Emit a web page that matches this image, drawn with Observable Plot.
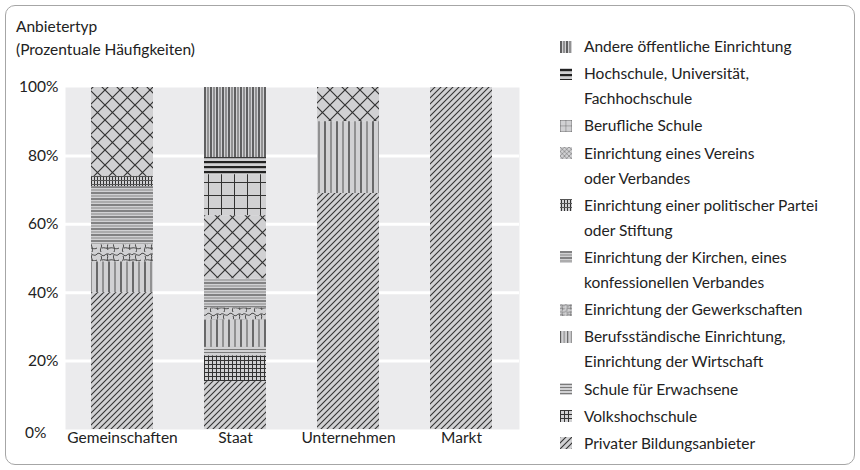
<!DOCTYPE html>
<html>
<head>
<meta charset="utf-8">
<script src="https://cdn.jsdelivr.net/npm/d3@7"></script>
<script src="https://cdn.jsdelivr.net/npm/@observablehq/plot@0.6"></script>
<style>
  body { margin:0; width:860px; height:470px; position:relative; background:#fff; font-family: Lato, "Open Sans", sans-serif; color:#222; overflow:hidden; }
  .frame { position:absolute; left:5px; top:5px; width:850px; height:460px; box-sizing:border-box; border:1.5px solid #a6a6a6; border-radius:10px; }
  #chart { position:absolute; left:0; top:0; }
  .title { position:absolute; left:16px; top:15px; line-height:23px; font-size:15.5px; }
  #legend { position:absolute; left:560px; top:34px; font-size:15.5px; }
  .item { display:flex; align-items:flex-start; margin-bottom:2.2px; }
  .item svg { flex:none; margin-top:6.5px; margin-right:12px; }
  .item .lab { line-height:25px; }
</style>
</head>
<body>
<svg width="0" height="0" style="position:absolute">
  <defs>
    <pattern id="pPriv" width="6" height="6" patternUnits="userSpaceOnUse">
      <rect width="6" height="6" fill="#d1d1d3"/>
      <path d="M-1,1L1,-1M0,6L6,0M5,7L7,5" stroke="#333" stroke-width="1.1"/>
    </pattern>
    <pattern id="pVhs" width="4" height="4" patternUnits="userSpaceOnUse">
      <rect width="4" height="4" fill="#d1d1d3"/>
      <path d="M0,0.5H4M0.5,0V4" stroke="#333" stroke-width="1"/>
    </pattern>
    <pattern id="pSfe" width="4" height="3" patternUnits="userSpaceOnUse">
      <rect width="4" height="3" fill="#d1d1d3"/>
      <path d="M0,1.5H4" stroke="#7a7a7a" stroke-width="1"/>
    </pattern>
    <pattern id="pBst" width="12" height="4" patternUnits="userSpaceOnUse">
      <rect width="12" height="4" fill="#d1d1d3"/>
      <path d="M1,0V4" stroke="#222" stroke-width="1.2"/>
      <path d="M7,0V4" stroke="#666" stroke-width="1.2"/>
    </pattern>
    <pattern id="pGew" width="22" height="12" patternUnits="userSpaceOnUse">
      <rect width="22" height="12" fill="#d1d1d3"/>
      <path d="M0,3C3,-1 6,6 9,2C12,-1 14,6 17,3C19,1 21,2 22,3M4,3C2,6 6,8 4,12M13,4C15,7 11,9 13,12M19,2C21,5 18,8 20,10M0,8C3,7 6,10 9,8M14,8C16,7 18,9 22,8" stroke="#444" stroke-width="1" fill="none"/>
    </pattern>
    <pattern id="pKir" width="4" height="6" patternUnits="userSpaceOnUse">
      <rect width="4" height="6" fill="#d1d1d3"/>
      <path d="M0,1H4" stroke="#333" stroke-width="1"/>
      <path d="M0,4H4" stroke="#888" stroke-width="1"/>
    </pattern>
    <pattern id="pPar" width="3" height="4" patternUnits="userSpaceOnUse">
      <rect width="3" height="4" fill="#d1d1d3"/>
      <path d="M1.5,0V4" stroke="#333" stroke-width="1"/>
      <path d="M0,0.5H3" stroke="#555" stroke-width="1"/>
    </pattern>
    <pattern id="pVer" width="15" height="15" patternUnits="userSpaceOnUse">
      <rect width="15" height="15" fill="#d1d1d3"/>
      <path d="M0,0L15,15M15,0L0,15" stroke="#333" stroke-width="1.2"/>
    </pattern>
    <pattern id="pBfl" width="13" height="13" patternUnits="userSpaceOnUse">
      <rect width="13" height="13" fill="#d1d1d3"/>
      <path d="M0.5,0V13M0,0.5H13" stroke="#333" stroke-width="1"/>
    </pattern>
    <pattern id="pHoch" width="4" height="5" patternUnits="userSpaceOnUse">
      <rect width="4" height="5" fill="#d1d1d3"/>
      <rect y="1" width="4" height="2.2" fill="#222"/>
    </pattern>
    <pattern id="pAnd" width="6" height="4" patternUnits="userSpaceOnUse">
      <rect width="6" height="4" fill="#d1d1d3"/>
      <path d="M1,0V4" stroke="#222" stroke-width="1.3"/>
      <path d="M4,0V4" stroke="#666" stroke-width="1.2"/>
    </pattern>
  </defs>
</svg>
<div class="frame"></div>
<div id="chart"></div>
<div class="title">Anbietertyp<br>(Prozentuale Häufigkeiten)</div>
<div id="legend"></div>
<script>
// Categories (x axis)
const anbieter = ["Gemeinschaften", "Staat", "Unternehmen", "Markt"];

// Provider types, legend order (top to bottom)
const typen = [
  "Andere öffentliche Einrichtung",
  "Hochschule, Universität, Fachhochschule",
  "Berufliche Schule",
  "Einrichtung eines Vereins oder Verbandes",
  "Einrichtung einer politischer Partei oder Stiftung",
  "Einrichtung der Kirchen, eines konfessionellen Verbandes",
  "Einrichtung der Gewerkschaften",
  "Berufsständische Einrichtung, Einrichtung der Wirtschaft",
  "Schule für Erwachsene",
  "Volkshochschule",
  "Privater Bildungsanbieter"
];
// Legend lines
const legendZeilen = [
  ["Andere öffentliche Einrichtung"],
  ["Hochschule, Universität,", "Fachhochschule"],
  ["Berufliche Schule"],
  ["Einrichtung eines Vereins", "oder Verbandes"],
  ["Einrichtung einer politischer Partei", "oder Stiftung"],
  ["Einrichtung der Kirchen, eines", "konfessionellen Verbandes"],
  ["Einrichtung der Gewerkschaften"],
  ["Berufsständische Einrichtung,", "Einrichtung der Wirtschaft"],
  ["Schule für Erwachsene"],
  ["Volkshochschule"],
  ["Privater Bildungsanbieter"]
];
const musterIds = ["pAnd", "pHoch", "pBfl", "pVer", "pPar", "pKir", "pGew", "pBst", "pSfe", "pVhs", "pPriv"];
const legendSkala = [1, 1, 0.42, 0.3, 1, 1, 0.55, 0.6, 1, 1, 1];

// Series values (%), per Anbieter: Gemeinschaften, Staat, Unternehmen, Markt
const andere     = [0, 20.5, 0, 0];
const hochschule = [0, 5, 0, 0];
const beruflich  = [0, 12, 0, 0];
const verein     = [26, 18.5, 10, 0];
const partei     = [3, 0, 0, 0];
const kirchen    = [17, 8.5, 0, 0];
const gewerk     = [5, 3.5, 0, 0];
const berufsst   = [9, 8, 21, 0];
const erwachsene = [0, 2.5, 0, 0];
const vhs        = [0, 7.5, 0, 0];
const privat     = [40, 14, 69, 100];

const serien = [andere, hochschule, beruflich, verein, partei, kirchen, gewerk, berufsst, erwachsene, vhs, privat];
const yTicks = [0, 20, 40, 60, 80, 100];

const data = [];
typen.forEach((t, i) => anbieter.forEach((a, j) => data.push({anbieter: a, typ: t, wert: serien[i][j]})));
const stapelOrdnung = typen.slice().reverse();

const chart = Plot.plot({
  width: 530,
  height: 470,
  marginTop: 87,
  marginBottom: 41,
  marginLeft: 65,
  marginRight: 11,
  style: {fontFamily: "Lato, 'Open Sans', sans-serif", fontSize: "15.5px", color: "#222", background: "transparent"},
  x: {domain: anbieter, paddingInner: 0.45, paddingOuter: 0.225, label: null},
  y: {domain: [0, 100], label: null},
  color: {domain: typen, range: musterIds.map(id => `url(#${id})`)},
  marks: [
    Plot.frame({fill: "#ebebed", stroke: null}),
    Plot.ruleY(yTicks.filter(d => d > 0 && d < 100), {stroke: "#fff", strokeWidth: 3}),
    Plot.barY(data, {x: "anbieter", y: "wert", fill: "typ", order: stapelOrdnung}),
    Plot.axisY({ticks: yTicks.filter(d => d > 0), tickFormat: d => d + "%", tickSize: 0, tickPadding: 7, label: null}),
    Plot.axisY({ticks: [0], tickFormat: d => d + "%", tickSize: 0, tickPadding: 7, dx: -12, dy: 4, label: null}),
    Plot.axisX({tickSize: 0, tickPadding: 2, label: null})
  ]
});
document.getElementById("chart").appendChild(chart);

// Legend
const legend = document.getElementById("legend");
legendZeilen.forEach((zeilen, i) => {
  const s = legendSkala[i];
  const item = document.createElement("div");
  item.className = "item";
  item.innerHTML = `<svg width="12" height="12"><rect width="${12 / s}" height="${12 / s}" transform="scale(${s})" fill="url(#${musterIds[i]})"/></svg><div class="lab">${zeilen.join("<br>")}</div>`;
  legend.appendChild(item);
});
</script>
</body>
</html>
